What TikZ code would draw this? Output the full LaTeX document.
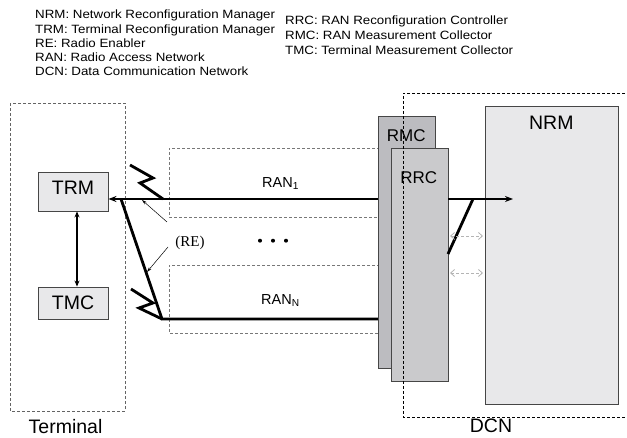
\documentclass[tikz,border=0pt]{standalone}
\usepackage{fontspec}
\setmainfont{Liberation Sans}
\newfontfamily\legendfont[FakeStretch=1.11]{Liberation Sans}
\newfontfamily\reserif{Liberation Serif}
\usetikzlibrary{arrows.meta}
\definecolor{boxfill}{RGB}{232,232,234}
\definecolor{rmcfill}{RGB}{188,188,192}
\definecolor{rrcfill}{RGB}{202,202,204}
\definecolor{edgecol}{RGB}{70,70,70}
\definecolor{termdash}{RGB}{100,100,100}
\definecolor{randash}{RGB}{120,120,120}
\definecolor{lightarrow}{RGB}{180,180,180}
\begin{document}
\begin{tikzpicture}[x=1pt,y=-1pt,
  legend/.style={anchor=base west,inner sep=0pt,font=\legendfont\fontsize{12}{14}\selectfont},
  box/.style={draw=edgecol,line width=0.9pt,rectangle,inner sep=0pt},
  biglbl/.style={anchor=base,inner sep=0pt,font=\fontsize{19.5}{22}\selectfont},
  midlbl/.style={anchor=base,inner sep=0pt,font=\fontsize{17}{20}\selectfont},
  ranlbl/.style={anchor=base west,inner sep=0pt,font=\fontsize{14.5}{17}\selectfont},
  thickline/.style={line width=2.8pt,black,line join=miter},
  dashbox/.style={dashed,dash pattern=on 3pt off 2pt,line width=0.8pt},
  grayarrow/.style={draw=lightarrow,line width=0.8pt,dash pattern=on 3pt off 2pt,
     {Straight Barb[length=4pt,width=7pt]}-{Straight Barb[length=4pt,width=7pt]}}
]
\useasboundingbox (0,0) rectangle (627,438);

% legend
\node[legend] (l1) at (35,19) {NRM: Network Reconfiguration Manager};
\node[legend] (l2) at (35,33.25) {TRM: Terminal Reconfiguration Manager};
\node[legend] (l3) at (35,47.5) {RE: Radio Enabler};
\node[legend] (l4) at (35,61.75) {RAN: Radio Access Network};
\node[legend] (l5) at (35,76) {DCN: Data Communication Network};
\node[legend] (l6) at (285,25) {RRC: RAN Reconfiguration Controller};
\node[legend] (l7) at (285,39.6) {RMC: RAN Measurement Collector};
\node[legend] (l8) at (285,54.3) {TMC: Terminal Measurement Collector};

% terminal dashed box
\draw[dashbox,draw=termdash] (10,103) rectangle (125,411);
\node[biglbl] (terminal) at (65.5,433.3) {Terminal};

% RAN dashed boxes
\draw[dashbox,draw=randash] (395,148) -- (169,148) -- (169,217) -- (395,217);
\draw[dashbox,draw=randash] (395,265) -- (169,265) -- (169,333) -- (395,333);
\node[ranlbl] (ran1) at (262,187.3) {RAN\textsubscript{1}};
\node[ranlbl] (rann) at (261,304.3) {RAN\textsubscript{N}};

% TRM and TMC
\node[box,fill=boxfill,minimum width=70pt,minimum height=39pt] (TRM) at (73,191.5) {};
\node[biglbl] (trmlbl) at (73,194.3) {TRM};
\node[box,fill=boxfill,minimum width=70pt,minimum height=32pt] (TMC) at (73,303) {};
\node[biglbl] (tmclbl) at (73,310) {TMC};
\draw[line width=1.7pt,{Stealth[length=6pt,width=5pt]}-{Stealth[length=6pt,width=5pt]}]
  ([xshift=4pt]TRM.south) -- ([xshift=4pt]TMC.north);

% coordinates for the radio links
\coordinate (r1) at (0,199);
\coordinate (nrmtip) at (513,199);
\coordinate (a1) at (130,165);
\coordinate (a2) at (153,178);
\coordinate (a3) at (140,183);
\coordinate (a4) at (163,199);
\coordinate (b1) at (131,289);
\coordinate (b2) at (153,303);
\coordinate (b3) at (139,308);
\coordinate (b4) at (162,319);
\coordinate (d1) at (121,199);
\coordinate (rnend) at (395,319);

\draw[thickline,{Stealth[length=8pt,width=6pt]}-{Stealth[length=8pt,width=6pt]}]
  (TRM.east |- r1) -- (nrmtip);
\draw[thickline] (a1) -- (a2) -- (a3) -- (a4);
\draw[thickline] (b1) -- (b2) -- (b3) -- (b4);
\draw[thickline] (d1) -- (b4) -- (rnend);

% (RE) label and arrows
\node[inner sep=0pt,anchor=base,font=\reserif\fontsize{15}{18}\selectfont] (RE) at (190,246.7) {(RE)};
\coordinate (re1) at (142,200);
\coordinate (re2) at (147,272);
\draw[line width=0.5pt,-{Stealth[length=5pt,width=3pt]}] (167,222) -- (re1);
\draw[line width=0.5pt,-{Stealth[length=5pt,width=3pt]}] (168,247) -- (re2);

% dots
\fill (260,240.7) circle (2pt);
\fill (273,240.7) circle (2pt);
\fill (286,240.7) circle (2pt);

% RMC and RRC
\node[box,fill=rmcfill,minimum width=57pt,minimum height=252pt] (RMC) at (406.5,242) {};
\node[midlbl] (rmclbl) at (406.3,141.7) {RMC};
\node[box,fill=rrcfill,minimum width=57pt,minimum height=233pt] (RRC) at (419.5,264.5) {};
\node[midlbl] (rrclbl) at (418.7,184) {RRC};

% NRM
\node[box,fill=boxfill,minimum width=133pt,minimum height=298pt] (NRM) at (551.5,255) {};
\node[biglbl] (nrmlbl) at (551.3,129.3) {NRM};

% right side link
\coordinate (c1) at (473,199);
\coordinate (c2) at (448,254);
\draw[thickline] (c1) -- (c2);
\draw[grayarrow] (450,236) -- (483,236);
\draw[grayarrow] (450,273) -- (483,273);
\draw[thickline,-{Stealth[length=8pt,width=6pt]}] (RRC.east |- r1) -- (nrmtip);

% DCN dashed box
\draw[dashbox,draw=black] (640,93) -- (403,93) -- (403,417) -- (640,417);
\node[biglbl] (dcn) at (491,433) {DCN};
\end{tikzpicture}
\end{document}
